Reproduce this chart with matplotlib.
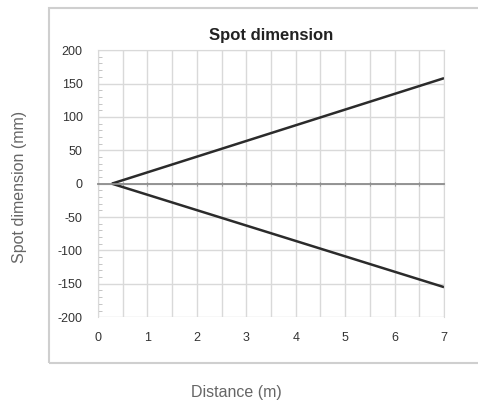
import matplotlib.pyplot as plt
from matplotlib.patches import Rectangle
from matplotlib.ticker import MultipleLocator

# data
distance = [0.28, 7]
upper_edge = [0, 158]
lower_edge = [0, -155]
x_ticks = [0, 1, 2, 3, 4, 5, 6, 7]
y_ticks = [-200, -150, -100, -50, 0, 50, 100, 150, 200]

plt.rcParams['font.family'] = ['Liberation Sans', 'DejaVu Sans']

fig = plt.figure(figsize=(4.78, 4.01), dpi=100)
ax = fig.add_axes([0.205, 0.209, 0.724, 0.666])

# outer chart box (excel style frame), right side runs off the image
fig.patches.append(Rectangle((49 / 478, (401 - 363) / 401), 1.5, (363 - 8) / 401,
                             transform=fig.transFigure, fill=False,
                             edgecolor='#cfcfcf', linewidth=1.5, clip_on=False))

ax.plot(distance, upper_edge, color='#2b2b2b', lw=1.8, solid_capstyle='butt')
ax.plot(distance, lower_edge, color='#2b2b2b', lw=1.8, solid_capstyle='butt')

ax.set_xlim(0, 7)
ax.set_ylim(-200, 200)
ax.xaxis.set_major_locator(MultipleLocator(0.5))
ax.set_yticks(y_ticks)
ax.yaxis.set_minor_locator(MultipleLocator(10))
ax.grid(True, which='major', color='#d9d9d9', lw=1)
ax.set_axisbelow(True)

for s in ['top', 'right', 'left']:
    ax.spines[s].set_color('#d9d9d9')
ax.spines['bottom'].set_position(('data', 0))
ax.spines['bottom'].set_color('#8c8c8c')
ax.spines['bottom'].set_linewidth(1.3)
ax.tick_params(axis='x', which='major', length=3, direction='inout', color='#8c8c8c',
               labelbottom=False)
ax.tick_params(axis='y', which='major', length=0, labelsize=9, pad=11, labelcolor='#333333')
ax.tick_params(axis='y', which='minor', length=3, direction='in', color='#bbbbbb')
ax.set_yticklabels([str(v) for v in y_ticks])

sec = ax.secondary_xaxis('bottom')
sec.set_xticks(x_ticks)
sec.tick_params(length=0, labelsize=9, pad=11, labelcolor='#333333')
sec.spines['bottom'].set_visible(False)

ax.set_title('Spot dimension', fontsize=12, fontweight='bold', color='#222222', pad=7)

fig.text(20 / 478, 1 - 187 / 401, 'Spot dimension (mm)', rotation=90, ha='center',
         va='center', fontsize=11.5, color='#666666')
fig.text(236 / 478, 1 - 392 / 401, 'Distance (m)', ha='center', va='center',
         fontsize=11.5, color='#666666')

fig.savefig('out.png', dpi=100)
